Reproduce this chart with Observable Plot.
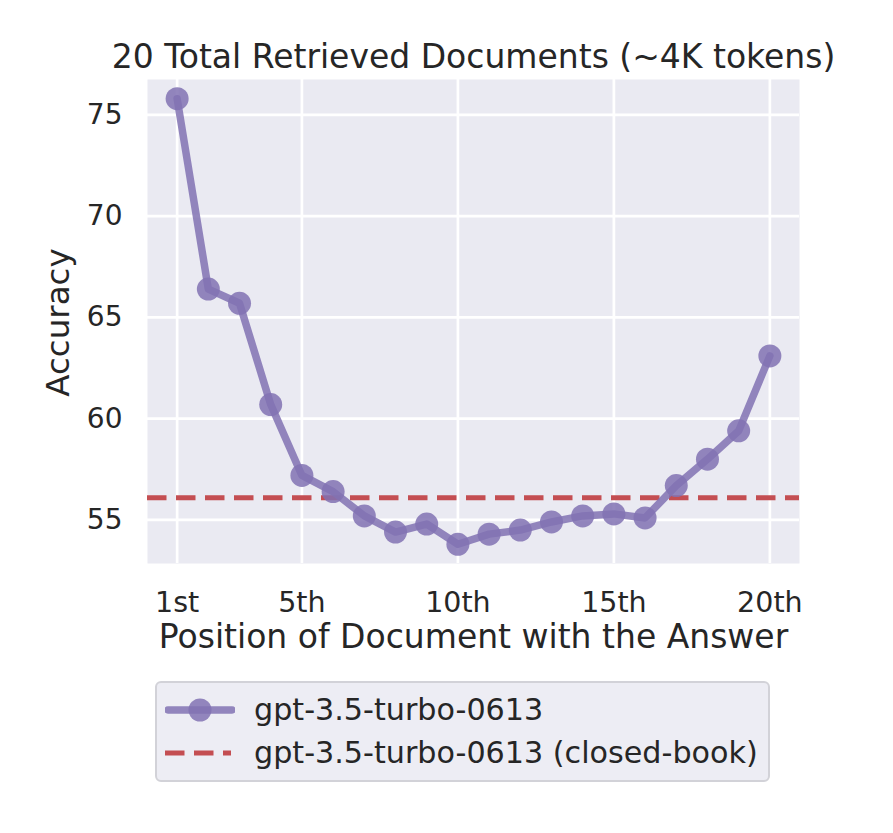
<!DOCTYPE html>
<html>
<head>
<meta charset="utf-8">
<script src="https://cdn.jsdelivr.net/npm/d3@7"></script>
<script src="https://cdn.jsdelivr.net/npm/@observablehq/plot@0.6"></script>
<style>
  html, body { margin: 0; padding: 0; background: #fff; }
  #wrap { position: relative; width: 893px; height: 833px; font-family: "DejaVu Sans", sans-serif; color: #262626; }
  #chart { position: absolute; left: 0; top: 0; }
  #legend { position: absolute; left: 155px; top: 681px; width: 611px; height: 97px;
            background: #EDEDF4; border: 2px solid #D2D2D8; border-radius: 6px; }
  .row { position: absolute; left: 0; height: 40px; }
  .row svg { position: absolute; left: 8px; }
  .row span { position: absolute; left: 97px; font-size: 30.2px; white-space: nowrap; line-height: 40px; top: 0; }
</style>
</head>
<body>
<div id="wrap">
  <div id="chart"></div>
  <div id="legend"></div>
</div>
<script>
const positions = [1,2,3,4,5,6,7,8,9,10,11,12,13,14,15,16,17,18,19,20];
const accuracy = [75.8,66.4,65.7,60.7,57.2,56.4,55.2,54.4,54.8,53.8,54.3,54.5,54.9,55.2,55.3,55.1,56.7,58.0,59.4,63.1];
const closedBook = [56.1];
const xTicks = [1,5,10,15,20];
const xTickLabels = ["1st","5th","10th","15th","20th"];
const yTicks = [55,60,65,70,75];
const seriesNames = ["gpt-3.5-turbo-0613", "gpt-3.5-turbo-0613 (closed-book)"];
const titleText = "20 Total Retrieved Documents (~4K tokens)";
const xLabel = "Position of Document with the Answer";
const yLabel = "Accuracy";

const purple = "#8172B3";
const red = "#C44E52";

const data = positions.map((p, i) => ({pos: p, acc: accuracy[i]}));

const chart = Plot.plot({
  width: 893,
  height: 665,
  marginTop: 79,
  marginBottom: 102,
  marginLeft: 147,
  marginRight: 94,
  style: {fontFamily: "DejaVu Sans", color: "#262626", background: "transparent", overflow: "visible"},
  x: {domain: [0.05, 20.95]},
  y: {domain: [52.85, 76.75]},
  marks: [
    Plot.frame({fill: "#EAEAF2", stroke: null}),
    Plot.gridX(xTicks, {stroke: "#fff", strokeOpacity: 1, strokeWidth: 2.7}),
    Plot.gridY(yTicks, {stroke: "#fff", strokeOpacity: 1, strokeWidth: 2.7}),
    Plot.axisX({ticks: xTicks, tickSize: 0, tickPadding: 28, fontSize: 28.5, label: null,
                tickFormat: d => xTickLabels[xTicks.indexOf(d)]}),
    Plot.axisY({ticks: yTicks, tickSize: 0, tickPadding: 25, fontSize: 28, label: null}),
    Plot.ruleY(closedBook, {stroke: red, strokeWidth: 5, strokeDasharray: "19.5,9.5"}),
    Plot.line(data, {x: "pos", y: "acc", stroke: purple, strokeWidth: 7.5, strokeOpacity: 0.85}),
    Plot.dot(data, {x: "pos", y: "acc", r: 11.5, fill: purple, fillOpacity: 0.85, stroke: null}),
    Plot.text([titleText], {frameAnchor: "top", lineAnchor: "bottom", dy: -12, fontSize: 33, fill: "#262626"}),
    Plot.text([xLabel], {frameAnchor: "bottom", lineAnchor: "bottom", dy: 84, fontSize: 33, fill: "#262626"}),
    Plot.text([yLabel], {frameAnchor: "left", textAnchor: "middle", lineAnchor: "bottom", rotate: -90, dx: -79, dy: 1, fontSize: 32.5, fill: "#262626"})
  ]
});
document.getElementById("chart").appendChild(chart);

// legend
const legend = document.getElementById("legend");
const rowTops = [7, 50];
seriesNames.forEach((name, i) => {
  const row = document.createElement("div");
  row.className = "row";
  row.style.top = rowTops[i] + "px";
  const icon = i === 0
    ? `<svg width="70" height="40" style="top:0"><line x1="3" x2="67" y1="20" y2="20" stroke="${purple}" stroke-opacity="0.85" stroke-width="7.5" stroke-linecap="round"/><circle cx="35" cy="20" r="11.5" fill="${purple}" fill-opacity="0.85"/></svg>`
    : `<svg width="70" height="40" style="top:0"><line x1="0" x2="66" y1="20" y2="20" stroke="${red}" stroke-width="5" stroke-dasharray="19.5,9.5"/></svg>`;
  row.innerHTML = icon + `<span>${name}</span>`;
  legend.appendChild(row);
});
</script>
</body>
</html>
